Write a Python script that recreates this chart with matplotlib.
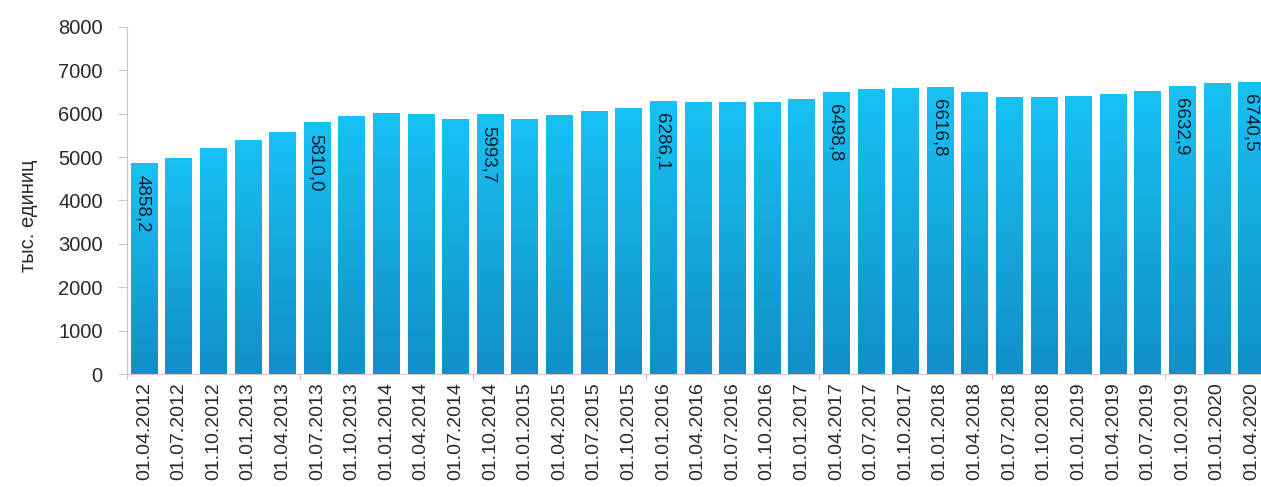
import matplotlib
matplotlib.use("Agg")
import matplotlib.pyplot as plt
import numpy as np
from matplotlib.colors import LinearSegmentedColormap

plt.rcParams['font.family'] = ['Liberation Sans', 'DejaVu Sans']

dates = ["01.04.2012", "01.07.2012", "01.10.2012", "01.01.2013", "01.04.2013",
         "01.07.2013", "01.10.2013", "01.01.2014", "01.04.2014", "01.07.2014",
         "01.10.2014", "01.01.2015", "01.04.2015", "01.07.2015", "01.10.2015",
         "01.01.2016", "01.04.2016", "01.07.2016", "01.10.2016", "01.01.2017",
         "01.04.2017", "01.07.2017", "01.10.2017", "01.01.2018", "01.04.2018",
         "01.07.2018", "01.10.2018", "01.01.2019", "01.04.2019", "01.07.2019",
         "01.10.2019", "01.01.2020", "01.04.2020"]
values = [4858.2, 4990, 5210, 5400, 5590,
          5810.0, 5950, 6020, 5995, 5870,
          5993.7, 5880, 5965, 6070, 6140,
          6286.1, 6265, 6275, 6270, 6330,
          6498.8, 6560, 6600, 6616.8, 6505,
          6385, 6385, 6420, 6450, 6530,
          6632.9, 6700, 6740.5]
labeled = ["01.04.2012", "01.07.2013", "01.10.2014", "01.01.2016",
           "01.04.2017", "01.01.2018", "01.10.2019", "01.04.2020"]
y_label = "тыс. единиц"
y_ticks = [0, 1000, 2000, 3000, 4000, 5000, 6000, 7000, 8000]

fig = plt.figure(figsize=(12.61, 4.87), dpi=100)
ax = fig.add_axes([127/1261, 113/487, (1269-127)/1261, 347/487])

x = np.arange(len(dates))
bars = ax.bar(x, values, width=0.78, color='none', edgecolor='none', zorder=2)

cmap = LinearSegmentedColormap.from_list('g', ['#1090c6', '#15a8dc', '#18c2f4'])
grad = np.linspace(0, 1, 256).reshape(-1, 1)
for b in bars:
    bx, by = b.get_x(), b.get_y()
    w, h = b.get_width(), b.get_height()
    im = ax.imshow(grad, extent=[bx, bx + w, by, by + h], origin='lower',
                   cmap=cmap, aspect='auto', zorder=2)
    im.set_clip_path(b)

for i, (d, v) in enumerate(zip(dates, values)):
    if d in labeled:
        ax.text(i - 0.05, v - 280, f"{v:.1f}".replace('.', ','), rotation=270,
                ha='center', va='top', fontsize=13.5, color='#0a1a2a', zorder=3)

ax.set_xlim(-0.5, len(dates) - 0.5)
ax.set_ylim(0, 8000)
ax.set_yticks(y_ticks)
ax.set_yticklabels([str(t) for t in y_ticks], fontsize=14.5, color='#2a2a2a')
ax.set_xticks(x)
ax.set_xticklabels(dates, rotation=90, fontsize=14, color='#2a2a2a')
ax.tick_params(axis='x', length=0, pad=6)
ax.tick_params(axis='y', length=6.5, color='#c8c8c8', pad=11)
# group tick marks on x axis every 5 categories
for k in np.arange(4.5, len(dates), 5):
    ax.plot([k, k], [0, -120], color='#e0b8b8', lw=0.8, clip_on=False, zorder=1)
ax.plot([-0.5, -0.5], [0, -120], color='#e0b8b8', lw=0.8, clip_on=False, zorder=1)

for s in ['top', 'right']:
    ax.spines[s].set_visible(False)
ax.spines['left'].set_color('#c8c8c8')
ax.spines['bottom'].set_color('#d8c8c8')
ax.set_ylabel(y_label, fontsize=14.5, color='#2a2a2a')
ax.yaxis.set_label_coords(-0.078, 0.457)

fig.savefig('out.png', dpi=100)
